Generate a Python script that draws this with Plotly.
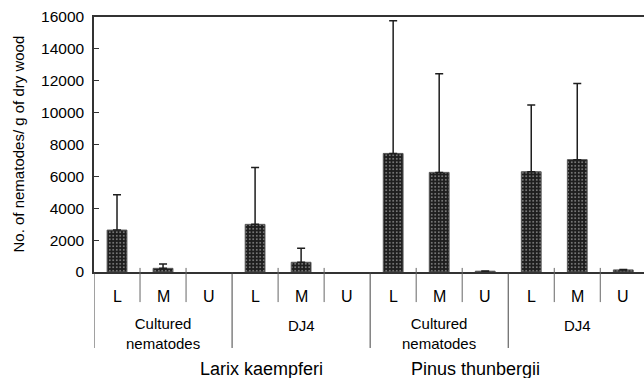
import plotly.graph_objects as go

positions = ["L", "M", "U"] * 4
groups = ["Cultured<br>nematodes", "DJ4", "Cultured<br>nematodes", "DJ4"]
species = ["Larix kaempferi", "Pinus thunbergii"]
means = [2630, 230, 0, 2990, 610, 0, 7440, 6250, 50, 6290, 7050, 130]
sd_plus = [2220, 270, 0, 3560, 880, 0, 8330, 6190, 20, 4190, 4770, 30]
y_ticks = [0, 2000, 4000, 6000, 8000, 10000, 12000, 14000, 16000]

FONT = "Liberation Sans, Arial, sans-serif"
DARK = "#1e1e1e"

# only bars with a visible value are drawn
idx = [i for i, v in enumerate(means) if v > 0]

fig = go.Figure()
fig.add_trace(go.Bar(
    x=idx, y=[means[i] for i in idx], width=0.43,
    marker=dict(color=DARK,
                line=dict(color="#555555", width=1),
                pattern=dict(shape=".", fgcolor="#f0f0f0", bgcolor=DARK,
                             size=3.5, solidity=0.12, fillmode="replace")),
    error_y=dict(type="data", symmetric=False, array=[sd_plus[i] for i in idx],
                 arrayminus=[0] * len(idx), color=DARK, thickness=1.5, width=4),
    showlegend=False,
))

shapes = []
for i in range(0, len(means) + 1):
    xb = i - 0.5
    if i % 3 == 0:
        y0, col = -0.298, "#444444"
    else:
        y0, col = -0.118, "#666666"
    shapes.append(dict(type="line", xref="x", yref="paper", x0=xb, x1=xb,
                       y0=0.016 if i % 3 else 0, y1=y0, line=dict(color=col, width=1)))

annotations = []
for i, p in enumerate(positions):
    annotations.append(dict(x=i, y=-0.097, xref="x", yref="paper", text=p,
                            showarrow=False, font=dict(size=16, color="black", family=FONT),
                            yanchor="middle"))
for g, name in enumerate(groups):
    yy = -0.243 if "<br>" in name else -0.208
    annotations.append(dict(x=g * 3 + 1, y=yy, xref="x", yref="paper", text=name,
                            showarrow=False, font=dict(size=15, color="black", family=FONT),
                            yanchor="middle"))
for name, xx in zip(species, [3.14, 7.78]):
    annotations.append(dict(x=xx, y=-0.38, xref="x", yref="paper", text=name,
                            showarrow=False, font=dict(size=18, color="black", family=FONT),
                            yanchor="middle"))
annotations.append(dict(x=(18 - 94) / 550, y=0.5, xref="paper", yref="paper",
                        text="No. of nematodes/ g of dry wood", textangle=-90,
                        showarrow=False, font=dict(size=15, color="black", family=FONT),
                        xanchor="center", yanchor="middle"))

fig.update_layout(
    width=644, height=378,
    margin=dict(l=94, r=0, t=17, b=106),
    paper_bgcolor="white", plot_bgcolor="white",
    shapes=shapes, annotations=annotations,
    xaxis=dict(range=[-0.5, 11.45], showticklabels=False, ticks="",
               showline=True, mirror=True, linecolor="#333333", linewidth=1.5,
               showgrid=False, zeroline=False),
    yaxis=dict(range=[0, 16000], tickvals=y_ticks, ticktext=[str(v) for v in y_ticks],
               ticks="inside", ticklen=5, ticklabelstandoff=5,
               tickcolor="#333333", showline=True, linecolor="#333333", linewidth=1.5,
               showgrid=False, zeroline=False,
               tickfont=dict(size=15.5, color="black", family=FONT)),
    font=dict(family=FONT),
)

fig.write_html("out.html")
